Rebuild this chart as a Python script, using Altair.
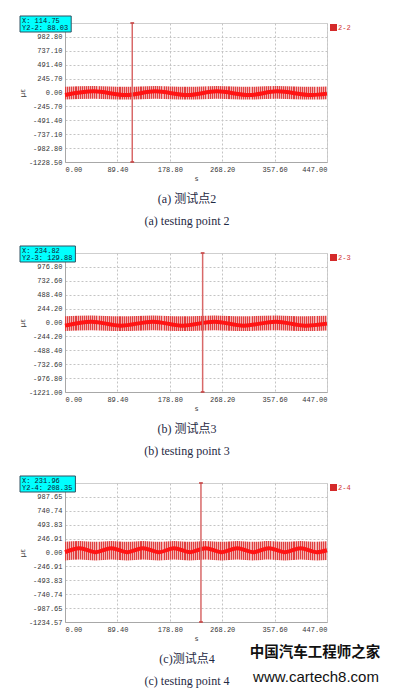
import altair as alt
import pandas as pd

# ---------------- data ----------------
x_ticks = [0.0, 44.7, 89.4, 134.1, 178.8, 223.5, 268.2, 312.9, 357.6, 402.3, 447.0]

# panel (a) testing point 2
a_ymax = 1228.5
a_yticks = [-1228.5, -982.8, -737.1, -491.4, -245.7, 0.0, 245.7, 491.4, 737.1, 982.8]
a_wave_x = [0, 49, 104, 154, 209, 259, 314, 362, 421, 447]
a_wave_y = [-45, 20, -45, 20, -45, 20, -45, 20, -45, -20]
a_band_hi = [100, 115, 100, 115, 100, 115, 100, 115, 100, 105]
a_band_lo = [-125, -110, -125, -110, -125, -110, -125, -110, -125, -118]
a_cursor_x = 114.75
a_readout = ["X: 114.75", "Y2-2: 88.03"]
a_legend = "2-2"
a_caption = ["(a) 测试点2", "(a) testing point 2"]

# panel (b) testing point 3
b_ymax = 1221.0
b_yticks = [-1221.0, -976.8, -732.6, -488.4, -244.2, 0.0, 244.2, 488.4, 732.6, 976.8]
b_wave_x = [0, 45, 95, 150, 200, 255, 305, 360, 410, 447]
b_wave_y = [-55, 15, -55, 15, -55, 15, -55, 15, -55, -20]
b_band_hi = [110, 125, 110, 125, 110, 125, 110, 125, 110, 118]
b_band_lo = [-150, -135, -150, -135, -150, -135, -150, -135, -150, -140]
b_cursor_x = 234.82
b_readout = ["X: 234.82", "Y2-3: 129.88"]
b_legend = "2-3"
b_caption = ["(b) 测试点3", "(b) testing point 3"]

# panel (c) testing point 4
c_ymax = 1234.57
c_yticks = [-1234.57, -987.65, -740.74, -493.83, -246.91, 0.0, 246.91, 493.83, 740.74, 987.65]
c_wave_x = [0, 25, 52, 79, 106, 133, 160, 186, 213, 240, 267, 294, 321, 348, 375, 402, 429, 447]
c_wave_y = [5, 75, 5, 75, 5, 75, 5, 75, 5, 75, 5, 75, 5, 75, 5, 75, 5, 40]
c_band_hi = [190, 205, 190, 205, 190, 205, 190, 205, 190, 205, 190, 205, 190, 205, 190, 205, 190, 198]
c_band_lo = [-140, -125, -140, -125, -140, -125, -140, -125, -140, -125, -140, -125, -140, -125, -140, -125, -140, -132]
c_cursor_x = 231.96
c_readout = ["X: 231.96", "Y2-4: 208.35"]
c_legend = "2-4"
c_caption = ["(c)测试点4", "(c) testing point 4"]

watermark = ["中国汽车工程师之家", "www.cartech8.com"]

# ---------------- styling / layout ----------------
W, H = 262, 139
MONO = "Liberation Mono"
CAP_FONT = "Liberation Serif, Noto Sans CJK SC"
CAP_COLOR = "#1f2a44"

# stripe texture for the dense oscillation band (pure style)
n_stripes = 125
stops = []
for i in range(n_stripes):
    a, b, c = i / n_stripes, (i + 0.5) / n_stripes, (i + 1) / n_stripes
    stops += [alt.GradientStop(offset=a, color="#e04040"),
              alt.GradientStop(offset=b, color="#e04040"),
              alt.GradientStop(offset=b, color="#f3b4b4"),
              alt.GradientStop(offset=c, color="#f3b4b4")]
stripe_fill = alt.Gradient(gradient="linear", stops=stops, x1=0, x2=1, y1=0, y2=0)

one = pd.DataFrame({"k": [0]})


def panel(ymax, yticks, wx, wy, hi, lo, cursor, readout, legend, caption, extra=None):
    xs = alt.Scale(domain=[0, 447], nice=False, zero=False)
    ys = alt.Scale(domain=[-ymax, ymax], nice=False, zero=False)
    xaxis = alt.Axis(values=x_ticks, title="s", titlePadding=2, labelPadding=3,
                     labelExpr="round(datum.value*10) % 894 == 0 ? format(datum.value, '.2f') : ''")
    yaxis = alt.Axis(values=yticks, title="με", titlePadding=3, labelPadding=3,
                     labelExpr="replace(format(datum.value, '.2f'), '\u2212', '-')")
    X = lambda f: alt.X(f, scale=xs, axis=xaxis)
    Y = lambda f: alt.Y(f, scale=ys, axis=yaxis)

    env = pd.DataFrame({"x": wx, "y": hi, "y2": lo})
    wave = pd.DataFrame({"x": wx, "y": wy})
    caps = pd.DataFrame({"x": [cursor, cursor], "y": [ymax, -ymax]})

    band = alt.Chart(env).mark_area(fill=stripe_fill, interpolate="monotone").encode(
        x=X("x:Q"), y=Y("y:Q"), y2="y2:Q")
    line = alt.Chart(wave).mark_line(color="#ff1414", strokeWidth=4, interpolate="monotone").encode(
        x=X("x:Q"), y=Y("y:Q"))
    rule = alt.Chart(one).mark_rule(color="#d86868", strokeWidth=1.5).encode(x=alt.datum(cursor))
    cap = alt.Chart(caps).mark_point(shape="M-1,-0.45L1,-0.45L1,0.45L-1,0.45Z", filled=True,
                                     color="#c84848", size=14, opacity=1).encode(x=X("x:Q"), y=Y("y:Q"))

    bw = max(len(t) for t in readout) * 4.2 + 5
    box = alt.Chart(one).mark_rect(fill="#00ffff", stroke="#305060", strokeWidth=1).encode(
        x=alt.value(-45), x2=alt.value(-45 + bw), y=alt.value(-7), y2=alt.value(9))
    t1 = alt.Chart(one).mark_text(align="left", baseline="middle", font=MONO, fontSize=7,
                                  color="#102030").encode(x=alt.value(-43), y=alt.value(-2.5),
                                                          text=alt.value(readout[0]))
    t2 = alt.Chart(one).mark_text(align="left", baseline="middle", font=MONO, fontSize=7,
                                  color="#102030").encode(x=alt.value(-43), y=alt.value(4.5),
                                                          text=alt.value(readout[1]))
    lg_box = alt.Chart(one).mark_rect(fill="#d42a2a").encode(
        x=alt.value(W + 3), x2=alt.value(W + 10), y=alt.value(1), y2=alt.value(8))
    lg_txt = alt.Chart(one).mark_text(align="left", baseline="middle", font=MONO, fontSize=7,
                                      color="#d03030").encode(x=alt.value(W + 11), y=alt.value(4.5),
                                                              text=alt.value(legend))
    c1 = alt.Chart(one).mark_text(align="center", baseline="middle", font=CAP_FONT, fontSize=12,
                                  color=CAP_COLOR).encode(x=alt.value(122), y=alt.value(H + 37),
                                                          text=alt.value(caption[0]))
    c2 = alt.Chart(one).mark_text(align="center", baseline="middle", font=CAP_FONT, fontSize=12,
                                  color=CAP_COLOR).encode(x=alt.value(122), y=alt.value(H + 59),
                                                          text=alt.value(caption[1]))
    layers = [band, line, rule, cap, box, t1, t2, lg_box, lg_txt, c1, c2]
    if extra:
        layers += extra
    return alt.layer(*layers).properties(width=W, height=H)


wm1 = alt.Chart(one).mark_text(align="center", baseline="middle", font="Noto Sans CJK SC",
                               fontSize=14.5, fontWeight="bold", color="#111111").encode(
    x=alt.value(250), y=alt.value(H + 31), text=alt.value(watermark[0]))
wm2 = alt.Chart(one).mark_text(align="center", baseline="middle", font="Liberation Sans",
                               fontSize=15, color="#111111").encode(
    x=alt.value(251), y=alt.value(H + 55), text=alt.value(watermark[1]))

pa = panel(a_ymax, a_yticks, a_wave_x, a_wave_y, a_band_hi, a_band_lo, a_cursor_x,
           a_readout, a_legend, a_caption)
pb = panel(b_ymax, b_yticks, b_wave_x, b_wave_y, b_band_hi, b_band_lo, b_cursor_x,
           b_readout, b_legend, b_caption)
pc = panel(c_ymax, c_yticks, c_wave_x, c_wave_y, c_band_hi, c_band_lo, c_cursor_x,
           c_readout, c_legend, c_caption, extra=[wm1, wm2])

chart = alt.vconcat(pa, pb, pc, spacing=91, bounds="flush").properties(
    padding={"left": 9, "top": 7, "right": 0, "bottom": 0}
).configure_view(
    stroke="#cfcfcf", strokeWidth=1
).configure_axis(
    grid=True, gridDash=[2, 2], gridColor="#c4c4c4", gridWidth=1,
    domainColor="#a8a8a8", ticks=False,
    labelFont=MONO, labelFontSize=7, labelColor="#333333",
    titleFont="DejaVu Sans", titleFontSize=7, titleFontWeight="normal", titleColor="#333333"
)

chart.save("out.html", embed_options={"renderer": "svg", "actions": False})
